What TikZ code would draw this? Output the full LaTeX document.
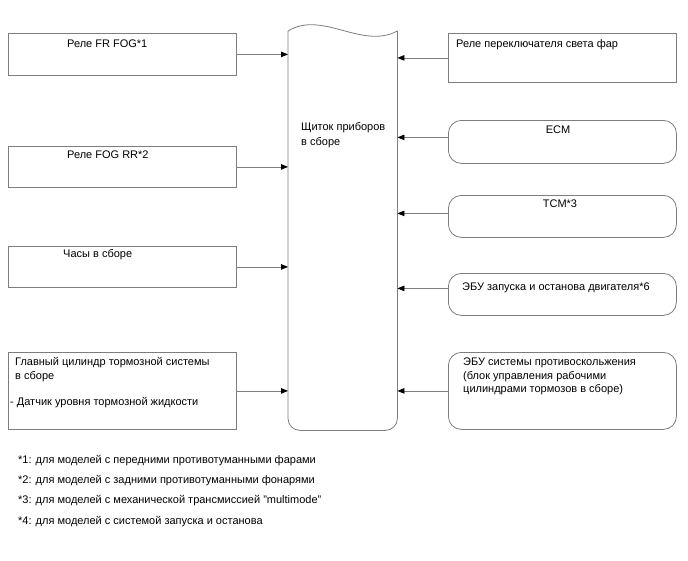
\documentclass[tikz,border=0pt]{standalone}
\usepackage{fontspec}
\setmainfont{Liberation Sans}
\usetikzlibrary{arrows.meta}
\definecolor{lineg}{RGB}{125,125,125}
\begin{document}
\begin{tikzpicture}[x=1pt,y=-1pt,
  box/.style={draw=lineg, line width=0.8pt, minimum width=228pt, inner sep=0pt, anchor=north west},
  rbox/.style={box, rounded corners=13pt},
  lbl/.style={font=\fontsize{11}{13}\selectfont, inner sep=0pt, anchor=mid west},
  clbl/.style={lbl, anchor=mid},
  conn/.style={draw=lineg, line width=0.8pt, -{Triangle[length=7pt,width=5.5pt,color=black]}},
  outline/.style={draw=lineg, line width=0.8pt}
]
\useasboundingbox (0,0) rectangle (688,560);

% left boxes
\node[box, minimum height=42pt] (l1) at (8,33) {};
\node[box, minimum height=41pt] (l2) at (8,146) {};
\node[box, minimum height=41pt] (l3) at (8,246) {};
\node[box, minimum height=77pt] (l4) at (8,352) {};

% right boxes
\node[box, minimum height=49pt] (r1) at (448,33) {};
\node[rbox, minimum height=43pt] (r2) at (448,120) {};
\node[rbox, minimum height=42pt] (r3) at (448,195) {};
\node[rbox, minimum height=42pt] (r4) at (448,273) {};
\node[rbox, minimum height=77pt] (r5) at (448,352) {};

% central panel
\node[minimum width=109pt, minimum height=399pt, inner sep=0pt, anchor=north west] (panel) at (288,31) {};
\draw[outline] (panel.north west) .. controls (322,10) and (362,50) .. (panel.north east);
\draw[outline, rounded corners=12pt] (panel.north east) -- (panel.south east) -- (panel.south west) -- (panel.north west);

% texts
\node[lbl] (t1) at (67,45) {Реле FR FOG*1};
\node[lbl] (t2) at (67,156) {Реле FOG RR*2};
\node[lbl] (t3) at (63,255) {Часы в сборе};
\node[lbl] (t4a) at (15,363) {Главный цилиндр тормозной системы};
\node[lbl] (t4b) at (15,377) {в сборе};
\node[lbl] (t4c) at (10,403) {- Датчик уровня тормозной жидкости};

\node[lbl] (tp1) at (301,128) {Щиток приборов};
\node[lbl] (tp2) at (301,143) {в сборе};

\node[lbl] (tr1) at (456,45) {Реле переключателя света фар};
\node[clbl] (tr2) at (558,131) {ECM};
\node[clbl] (tr3) at (560,205) {TCM*3};
\node[lbl] (tr4) at (462,288) {ЭБУ запуска и останова двигателя*6};
\node[lbl] (tr5a) at (463,363) {ЭБУ системы противоскольжения};
\node[lbl] (tr5b) at (463,377) {(блок управления рабочими};
\node[lbl] (tr5c) at (463,390) {цилиндрами тормозов в сборе)};

% footnotes
\node[lbl] (f1) at (18,461) {*1: для моделей с передними противотуманными фарами};
\node[lbl] (f2) at (18,481) {*2: для моделей с задними противотуманными фонарями};
\node[lbl] (f3) at (18,501) {*3: для моделей с механической трансмиссией "multimode"};
\node[lbl] (f4) at (18,522) {*4: для моделей с системой запуска и останова};

% connectors
\draw[conn] (l1.east) -- (l1.east -| panel.west);
\draw[conn] (l2.east) -- (l2.east -| panel.west);
\draw[conn] (l3.east) -- (l3.east -| panel.west);
\draw[conn] (l4.east) -- (l4.east -| panel.west);

\draw[conn] (r1.west) -- (r1.west -| panel.east);
\draw[conn] ([yshift=4.5pt]r2.west) -- ([yshift=4.5pt]r2.west -| panel.east);
\draw[conn] ([yshift=3pt]r3.west) -- ([yshift=3pt]r3.west -| panel.east);
\draw[conn] ([yshift=6pt]r4.west) -- ([yshift=6pt]r4.west -| panel.east);
\draw[conn] (r5.west) -- (r5.west -| panel.east);
\end{tikzpicture}
\end{document}
